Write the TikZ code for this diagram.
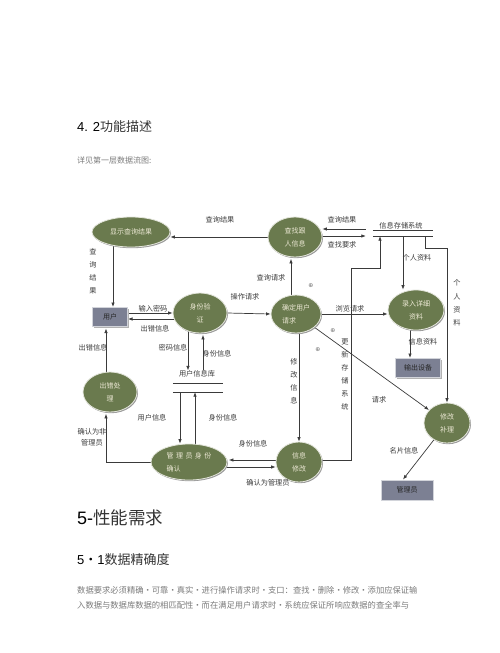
\documentclass[tikz,border=0pt]{standalone}
\usepackage{fontspec}
\setmainfont{Liberation Sans}
\newfontfamily\cjk{Noto Sans CJK SC}
\newfontfamily\dejavu{DejaVu Sans}
\usetikzlibrary{shapes.geometric,shadows,arrows.meta,calc}
\definecolor{olivefill}{HTML}{6A7A4E}
\definecolor{rimcol}{HTML}{E4E6DC}
\definecolor{proctext}{HTML}{ECE8D4}
\definecolor{boxfill}{HTML}{7C8093}
\definecolor{boxrim}{HTML}{D2D4DA}
\definecolor{linecol}{HTML}{3A3A3A}
\definecolor{labelcol}{HTML}{3C3C3C}
\definecolor{bodygray}{HTML}{7A7A7A}
\definecolor{headgray}{HTML}{333333}
\pgfdeclarelayer{bg}
\pgfsetlayers{bg,main}
\begin{document}
\begin{tikzpicture}[x=1pt,y=-1pt,
  procnode/.style={ellipse, fill=olivefill, draw=rimcol, line width=0.8pt, inner sep=0pt, align=center, text=proctext, font={\cjk\fontsize{7}{13}\selectfont}, drop shadow={shadow xshift=1pt, shadow yshift=-1.2pt, fill=black!40, opacity=1}},
  extnode/.style={rectangle, fill=boxfill, draw=boxrim, line width=1pt, inner sep=0pt, text=black!85, font={\cjk\fontsize{7}{9}\selectfont}, drop shadow={shadow xshift=1pt, shadow yshift=-1.2pt, fill=black!30, opacity=1}},
  lbl/.style={inner sep=0pt, text=labelcol, font={\cjk\fontsize{7.2}{12.7}\selectfont}, align=center},
  vlbl/.style={lbl, font={\cjk\fontsize{7.2}{12.9}\selectfont}},
  flow/.style={draw=linecol, line width=0.7pt, -{Latex[length=4.5pt,width=3.5pt]}},
  storeline/.style={draw=linecol, line width=0.7pt},
  storebox/.style={rectangle, inner sep=0pt},
  plusmark/.style={inner sep=0pt, text=black!55, font={\dejavu\fontsize{6}{6}\selectfont}},
  txt/.style={inner sep=0pt, anchor=west},
]
\useasboundingbox (0,0) rectangle (500,653);

% ---------- page text ----------
\node[txt] (h42) at (77,127) {\fontsize{13}{15}\selectfont 4. 2{\cjk\color{headgray}功能描述}};
\node[txt, text=bodygray] (intro) at (77,160) {\cjk\fontsize{8}{10}\selectfont 详见第一层数据流图:};
\node[txt] (h5) at (77,518) {\fontsize{18}{20}\selectfont 5-{\cjk\fontsize{17.5}{20}\selectfont\color{headgray}性能需求}};
\node[txt] (h51) at (77,560) {\fontsize{13}{15}\selectfont 5{\cjk ・}1{\cjk\color{headgray}数据精确度}};
\node[txt, text=bodygray] (p1) at (77,590) {\cjk\fontsize{8.3}{10}\selectfont 数据要求必须精确・可靠・真实・进行操作请求时・支口：查找・删除・修改・添加应保证输};
\node[txt, text=bodygray] (p2) at (77,605) {\cjk\fontsize{8.3}{10}\selectfont 入数据与数据库数据的相匹配性・而在满足用户请求时・系统应保证所响应数据的查全率与};

% ---------- processes ----------
\node[procnode, minimum width=78pt, minimum height=30pt] (disp) at (131,232) {显示查询结果};
\node[procnode, minimum width=54pt, minimum height=40pt] (find) at (295,237) {查找跟\\人信息};
\node[procnode, minimum width=54pt, minimum height=40pt] (verify) at (200,313) {身份验\\证};
\node[procnode, minimum width=50pt, minimum height=38pt, align=left] (req) at (296,314) {确定用户\\请求};
\node[procnode, minimum width=56pt, minimum height=40pt] (entry) at (416,310) {录入详细\\资料};
\node[procnode, minimum width=54pt, minimum height=40pt] (err) at (110,392) {出错处\\理};
\node[procnode, minimum width=76pt, minimum height=36pt, align=left] (admin) at (189,462) {管\hspace{2.5pt}理\hspace{2.5pt}员\hspace{2.5pt}身\hspace{2.5pt}份\\确认};
\node[procnode, minimum width=46pt, minimum height=40pt] (modify) at (299,462) {信息\\修改};
\node[procnode, minimum width=46pt, minimum height=40pt] (fix) at (447,423) {修改\\补理};

% ---------- external entities ----------
\node[extnode, minimum width=35pt, minimum height=19pt] (user) at (110,317) {用户};
\node[extnode, minimum width=45pt, minimum height=19pt] (out) at (418,368) {输出设备};
\node[extnode, minimum width=52pt, minimum height=20pt] (mgr) at (407,490) {管理员};

% ---------- data stores ----------
\node[storebox, minimum width=60pt, minimum height=5pt] (istore) at (403,233.5) {};
\draw[storeline] (istore.north west) -- (istore.north east);
\draw[storeline] (istore.south west) -- (istore.south east);
\node[lbl] (istorel) at (401,226) {信息存储系统};
\node[storebox, minimum width=50pt, minimum height=8pt] (udb) at (198,388) {};
\draw[storeline] (udb.north west) -- (udb.north east);
\draw[storeline] (udb.south west) -- (udb.south east);
\node[lbl] (udbl) at (197,374) {用户信息库};

% ---------- helper coordinates ----------
\path (user.north) ++(3,0) coordinate (c2);
\path (verify.center) ++(0,6) coordinate (c4);
\path (verify.center) ++(-12,0) coordinate (c6);
\path (verify.south) ++(3,1.5) coordinate (c7e);
\path (udb.south) ++(-18,0) coordinate (c8);
\path (udb.south) ++(-3,0) coordinate (c9);
\path (err.south) ++(-4,1.5) coordinate (c10);
\path (user.south) ++(-4,1.5) coordinate (c11e);
\path (admin.east) ++(1.5,-2) coordinate (c12e);
\path (modify.west) ++(0,5) coordinate (c13e);
\path (find.south) ++(-4,1.5) coordinate (c14e);
\path (istore.west) ++(-7,-4.5) coordinate (c15s);
\path (istore.west) ++(-7,2.5) coordinate (c15b);
\path (out.north) ++(-8,0) coordinate (c18);
\path (istore.south) ++(22,0) coordinate (c19);
\path (istore.south) ++(-23,0) coordinate (c21e);
\path (modify.center) ++(0,-2) coordinate (c21s);
\coordinate (c21a) at (351,268);
\path (mgr.north) ++(-4,0) coordinate (c23);

% ---------- connectors ----------
\begin{pgfonlayer}{bg}
\draw[flow] (find.west) -- (find.west -| disp.east);
\draw[flow] (c2 |- disp.center) -- (c2);
\draw[flow] (user.east |- verify.west) -- (verify.west);
\draw[flow] (c4) -- (c4 -| user.east);
\draw[flow] (verify.east) -- (req.west);
\draw[flow] (c6) -- (c6 |- udbl.north);
\draw[flow] (c7e |- udbl.north) -- (c7e);
\draw[flow] (c8) -- (c8 |- admin.north);
\draw[flow] (c9 |- admin.center) -- (c9);
\draw[flow] (admin.center) -| (c10);
\draw[flow] (c11e |- err.center) -- (c11e);
\draw[flow] (c12e -| modify.center) -- (c12e);
\draw[flow] (c13e -| admin.center) -- (c13e);
\draw[flow] (c14e |- req.center) -- (c14e);
\draw[flow] (c15s) -- (c15s -| find.east);
\draw[flow] (c15b -| find.center) -- (c15b);
\draw[flow] (req.east) -- (req.east -| entry.west);
\draw[flow] (istore.south) -- (istore.south |- entry.north);
\draw[flow] (c18 |- entry.center) -- (c18);
\draw[flow] (c19) -- ++(0,12) -| (fix.north);
\draw[flow] (req.center -| modify.north) -- (modify.north);
\draw[flow] (c21s) -| (c21a) -| (c21e);
\draw[flow] (req) -- (fix);
\draw[flow] (fix) -- (c23);
\end{pgfonlayer}

% ---------- labels ----------
\node[lbl] (l1) at (220,220) {查询结果};
\node[vlbl] (l2) at (93,271) {查\\询\\结\\果};
\node[lbl] (l3) at (153,309) {输入密码};
\node[lbl] (l4) at (155,329) {出错信息};
\node[lbl] (l5) at (245,297) {操作请求};
\node[lbl] (l6) at (173,348) {密码信息};
\node[lbl] (l7) at (217,354) {身份信息};
\node[lbl] (l8) at (152,418) {用户信息};
\node[lbl] (l9) at (223,418) {身份信息};
\node[lbl] (l10) at (93,348) {出错信息};
\node[lbl, font={\cjk\fontsize{7.2}{11.5}\selectfont}] (l11) at (92,437.5) {确认为非\\管理员};
\node[lbl] (l12) at (253,444) {身份信息};
\node[lbl] (l13) at (268,483) {确认为管理员};
\node[lbl] (l14) at (271,278) {查询请求};
\node[lbl] (l15) at (342,220) {查询结果};
\node[lbl] (l16) at (342,245) {查找要求};
\node[lbl] (l17) at (350,309) {浏览请求};
\node[lbl] (l18) at (417,258) {个人资料};
\node[lbl] (l19) at (423,342) {信息资料};
\node[vlbl, font={\cjk\fontsize{7.2}{13.3}\selectfont}] (l20) at (457,303) {个\\人\\资\\料};
\node[vlbl] (l21) at (294,381) {修\\改\\信\\息};
\node[vlbl, font={\cjk\fontsize{7.2}{13}\selectfont}] (l22) at (345,374.5) {更\\新\\存\\储\\系\\统};
\node[lbl] (l23) at (379,400) {请求};
\node[lbl] (l24) at (404,451) {名片信息};
\node[plusmark] (m1) at (311,286) {⊕};
\node[plusmark] (m2) at (333,331) {⊕};
\node[plusmark] (m3) at (318,350) {⊕};
\end{tikzpicture}
\end{document}
